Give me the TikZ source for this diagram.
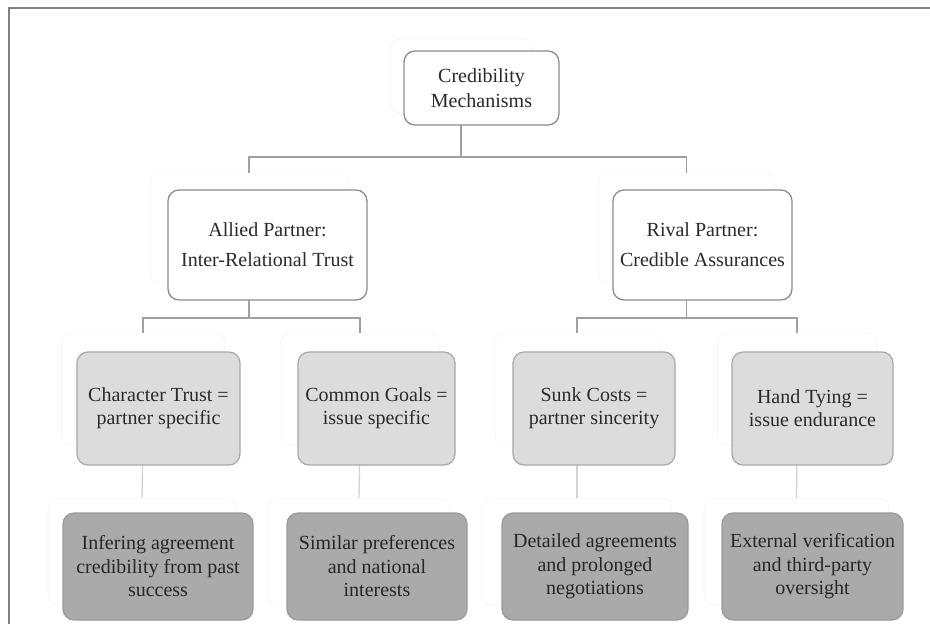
\documentclass[tikz,border=0pt]{standalone}
\usepackage{fontspec}
\setmainfont{Liberation Serif}
\definecolor{framec}{HTML}{808080}
\definecolor{edgec}{HTML}{8C8C8C}
\definecolor{conn}{HTML}{A0A0A0}
\definecolor{connlight}{HTML}{D2D2D2}
\definecolor{ghostc}{HTML}{F4F4F4}
\definecolor{midfill}{HTML}{DCDCDC}
\definecolor{midedge}{HTML}{A8A8A8}
\definecolor{darkfill}{HTML}{AAAAAA}
\definecolor{darkedge}{HTML}{9A9A9A}
\definecolor{txt}{HTML}{2A2A2A}
\tikzset{
  ghost/.style={draw=ghostc, line width=0.6pt, rounded corners=10pt, inner sep=0pt, outer sep=0pt},
  toplvl/.style={draw=edgec, fill=white, line width=1.3pt, rounded corners=11pt, align=center, inner sep=0pt, outer sep=0pt, text=txt, font=\fontsize{20}{25}\selectfont},
  sndlvl/.style={draw=edgec, fill=white, line width=1.3pt, rounded corners=11pt, align=center, inner sep=0pt, outer sep=0pt, text=txt, font=\fontsize{20}{30}\selectfont},
  thdlvl/.style={draw=midedge, fill=midfill, line width=1.2pt, rounded corners=11pt, align=center, inner sep=0pt, outer sep=0pt, text=txt, font=\fontsize{20}{23}\selectfont},
  fthlvl/.style={draw=darkedge, fill=darkfill, line width=1.2pt, rounded corners=11pt, align=center, inner sep=0pt, outer sep=0pt, text=black!85, font=\fontsize{20}{23.5}\selectfont},
  bar/.style={draw=conn, line width=1.3pt},
  thin/.style={draw=connlight, line width=1.3pt}
}
\begin{document}
\begin{tikzpicture}[x=1pt,y=-1pt]
\useasboundingbox (0,0) rectangle (930,624);
% frame
\draw[framec, line width=1.5pt] (9,624) -- (9,8) -- (930,8);

% ghost boxes
\node[ghost, minimum width=142pt, minimum height=74pt] (gtop) at (461,76) {};
\node[ghost, minimum width=198pt, minimum height=110pt] (gallied) at (249,228) {};
\node[ghost, minimum width=177pt, minimum height=110pt] (grival) at (686.5,228) {};
\node[ghost, minimum width=163pt, minimum height=112pt] (gchar) at (143,389) {};
\node[ghost, minimum width=158pt, minimum height=112pt] (gcommon) at (360,389) {};
\node[ghost, minimum width=164pt, minimum height=112pt] (gsunk) at (577,389) {};
\node[ghost, minimum width=159pt, minimum height=112pt] (ghand) at (797,389) {};
\node[ghost, minimum width=188pt, minimum height=107pt] (ginfer) at (142,551.5) {};
\node[ghost, minimum width=182pt, minimum height=107pt] (gsimilar) at (359,551.5) {};
\node[ghost, minimum width=190pt, minimum height=107pt] (gdetail) at (577,551.5) {};
\node[ghost, minimum width=185pt, minimum height=107pt] (gexternal) at (796.5,551.5) {};

% connectors
\coordinate (bar1) at (0,157);
\coordinate (bar2) at (0,318);
\draw[bar] (gtop.south) -- (gtop.south |- bar1) -| (gallied.north);
\draw[bar] (gtop.south |- bar1) -| (grival.north);
\draw[bar] (gallied.south) -- (gallied.south |- bar2) -| (gchar.north);
\draw[bar] (gallied.south |- bar2) -| (gcommon.north);
\draw[bar] (grival.south) -- (grival.south |- bar2) -| (gsunk.north);
\draw[bar] (grival.south |- bar2) -| (ghand.north);
\draw[thin] (gchar.south) -- (ginfer.north);
\draw[thin] (gcommon.south) -- (gsimilar.north);
\draw[thin] (gsunk.south) -- (gdetail.north);
\draw[thin] (ghand.south) -- (gexternal.north);

% real boxes
\node[toplvl, minimum width=155pt, minimum height=74pt] (top) at (481.5,88) {Credibility\\Mechanisms};
\node[sndlvl, minimum width=199pt, minimum height=110pt] (allied) at (267.5,245) {Allied Partner:\\Inter-Relational Trust};
\node[sndlvl, minimum width=179pt, minimum height=110pt] (rival) at (702.5,245) {Rival Partner:\\Credible Assurances};
\node[thdlvl, minimum width=163pt, minimum height=113pt] (char) at (158.5,408.5) {Character Trust =\\partner specific};
\node[thdlvl, minimum width=157pt, minimum height=113pt] (common) at (376.5,408.5) {Common Goals =\\issue specific};
\node[thdlvl, minimum width=162pt, minimum height=113pt] (sunk) at (594,408.5) {Sunk Costs =\\partner sincerity};
\node[thdlvl, minimum width=161pt, minimum height=113pt] (hand) at (812.5,408.5) {Hand Tying =\\issue endurance};
\node[fthlvl, minimum width=190pt, minimum height=107pt] (infer) at (158,566.5) {Infering agreement\\credibility from past\\success};
\node[fthlvl, minimum width=180pt, minimum height=107pt] (similar) at (377,566.5) {Similar preferences\\and national\\interests};
\node[fthlvl, minimum width=186pt, minimum height=107pt] (detail) at (595,566.5) {Detailed agreements\\and prolonged\\negotiations};
\node[fthlvl, minimum width=181pt, minimum height=107pt] (external) at (812.5,566.5) {External verification\\and third-party\\oversight};
\end{tikzpicture}
\end{document}
